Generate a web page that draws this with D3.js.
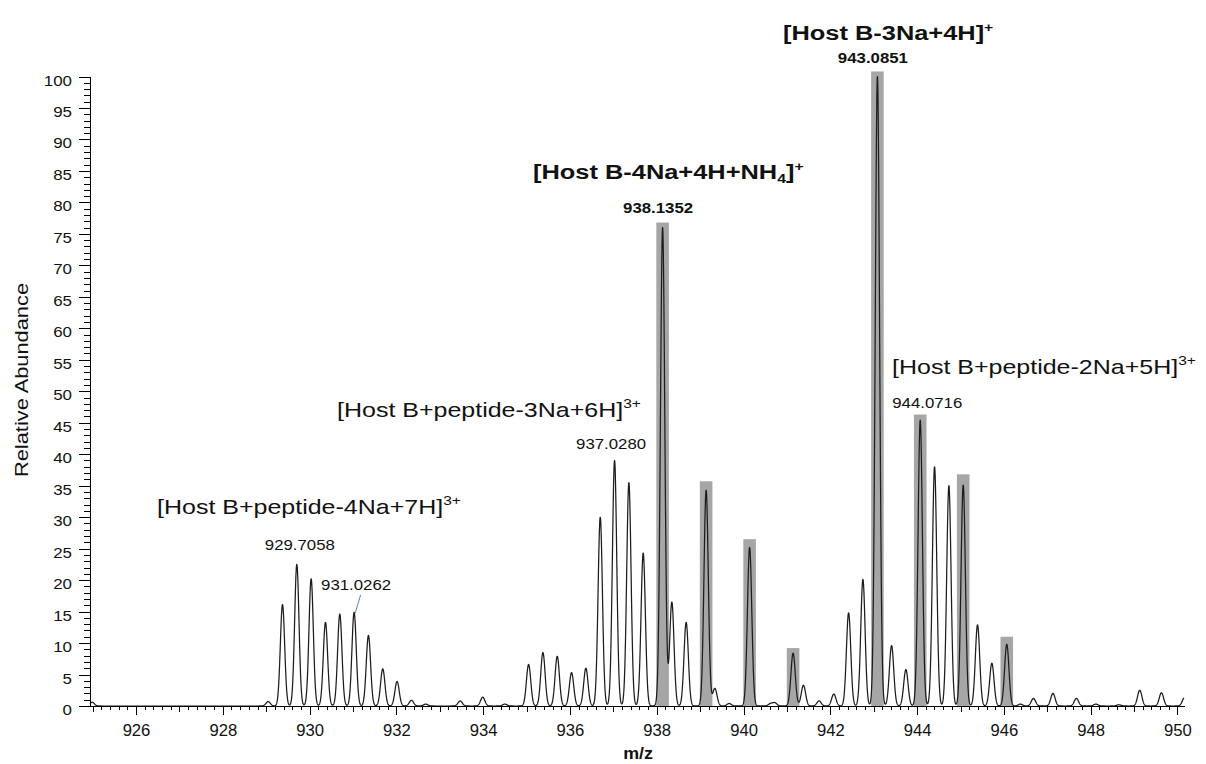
<!DOCTYPE html>
<html>
<head>
<meta charset="utf-8">
<script src="https://cdn.jsdelivr.net/npm/d3@7"></script>
<style>
  body { margin: 0; background: #fff; }
  svg { display: block; font-family: "Liberation Sans", Arial, sans-serif; }
</style>
</head>
<body>
<svg id="chart" width="1206" height="764"></svg>
<script>
// Centroids of the profile spectrum: m/z and relative abundance (%)
const peakMz = [
  924.99, 929.045, 929.376, 929.7058, 930.036, 930.366, 930.696, 931.0262, 931.356, 931.686,
  932.016, 932.347, 932.677, 933.47, 933.99, 934.50,
  935.047, 935.377, 935.707, 936.037, 936.367, 936.698, 937.028, 937.358, 937.688,
  938.1352, 938.348, 938.678, 939.138, 939.339, 939.669, 940.140, 940.62, 940.72,
  941.142, 941.38, 941.74, 942.08, 942.421, 942.751, 943.0851, 943.411, 943.741,
  944.0716, 944.402, 944.732, 945.062, 945.392, 945.722, 946.066, 946.38, 946.68,
  947.13, 947.67, 948.12, 948.65, 949.13, 949.63, 950.16
];
const peakAbundance = [
  0.6, 0.7, 16.1, 22.5, 20.2, 13.3, 14.6, 14.9, 11.2, 5.9,
  3.9, 0.9, 0.3, 0.8, 1.4, 0.3,
  6.6, 8.5, 7.9, 5.3, 6.0, 30.0, 39.0, 35.5, 24.3,
  76.0, 16.5, 13.3, 34.3, 2.8, 0.4, 25.2, 0.35, 0.5,
  8.4, 3.3, 0.8, 1.9, 14.8, 20.1, 100, 9.6, 5.8,
  45.4, 38.0, 35.0, 35.1, 12.9, 6.8, 9.8, 0.3, 1.2,
  2.0, 1.2, 0.3, 0.2, 2.5, 2.1, 1.3
];

// Theoretical isotope pattern drawn as grey bars
const barMz = [938.1352, 939.138, 940.140, 941.142, 943.0851, 944.0716, 945.062, 946.066];
const barAbundance = [76.8, 35.7, 26.5, 9.2, 100.8, 46.3, 36.8, 11.0];

// Axis ticks
const xTickLabels = [926, 928, 930, 932, 934, 936, 938, 940, 942, 944, 946, 948, 950];
const yTickLabels = d3.range(0, 101, 5);

// Peak annotations
const peakLabelMz = [929.7058, 931.0262, 937.0280, 938.1352, 943.0851, 944.0716];
const peakLabelText = ["929.7058", "931.0262", "937.0280", "938.1352", "943.0851", "944.0716"];

const svg = d3.select("#chart");

const x = d3.scaleLinear().domain([924.94, 950.15]).range([90, 1184]);
const y = d3.scaleLinear().domain([0, 100]).range([706, 76.5]);

// ---- grey isotope bars ----
const barHalf = 0.145;
svg.append("g").selectAll("rect")
  .data(barMz)
  .join("rect")
  .attr("x", (d) => x(d - barHalf))
  .attr("width", (d) => x(d + barHalf) - x(d - barHalf))
  .attr("y", (d, i) => y(barAbundance[i]))
  .attr("height", (d, i) => y(0) - y(barAbundance[i]))
  .attr("fill", "#a6a6a6");

// ---- profile trace: each centroid rendered with a gaussian peak shape ----
const sigma = 0.05;
const [m0, m1] = x.domain();
const grid = d3.range(m0, m1 + 0.0001, 0.004);
const profile = grid.map((m) => {
  let s = 0;
  for (let i = 0; i < peakMz.length; i++) {
    const dm = m - peakMz[i];
    if (Math.abs(dm) < 6 * sigma) s += peakAbundance[i] * Math.exp(-(dm * dm) / (2 * sigma * sigma));
  }
  return [m, s];
});
svg.append("path")
  .datum(profile)
  .attr("fill", "none")
  .attr("stroke", "#1c1c1c")
  .attr("stroke-width", 1.25)
  .attr("stroke-linejoin", "round")
  .attr("d", d3.line().x((d) => x(d[0])).y((d) => y(d[1])));

// ---- axes ----
const axisColor = "#000";

// y minor ticks (every 1 %)
svg.append("g")
  .attr("transform", "translate(90,0)")
  .call(d3.axisLeft(y).tickValues(d3.range(0, 101, 1)).tickSize(6).tickSizeOuter(0).tickFormat(""))
  .call((g) => g.select(".domain").remove())
  .call((g) => g.selectAll("line").attr("stroke", axisColor).attr("shape-rendering", "crispEdges"));

// y major ticks with labels
svg.append("g")
  .attr("transform", "translate(90,0)")
  .call(d3.axisLeft(y).tickValues(yTickLabels).tickSize(11).tickSizeOuter(0))
  .call((g) => g.select(".domain").attr("stroke", axisColor).attr("shape-rendering", "crispEdges"))
  .call((g) => g.selectAll("line").attr("stroke", axisColor).attr("shape-rendering", "crispEdges"))
  .call((g) => g.selectAll("text")
    .attr("x", null).attr("dy", null)
    .attr("font-size", 15)
    .attr("font-family", "Liberation Sans, Arial, sans-serif")
    .attr("fill", "#111")
    .attr("text-anchor", "end")
    .attr("transform", "translate(-18,8.5) scale(1.13,1)"));

// x minor ticks (every 0.2)
svg.append("g")
  .attr("transform", "translate(0,706)")
  .call(d3.axisBottom(x).tickValues(d3.range(925, 950.11, 0.2)).tickSize(4).tickSizeOuter(0).tickFormat(""))
  .call((g) => g.select(".domain").attr("stroke", axisColor).attr("shape-rendering", "crispEdges"))
  .call((g) => g.selectAll("line").attr("stroke", axisColor).attr("shape-rendering", "crispEdges"));

// x integer ticks
svg.append("g")
  .attr("transform", "translate(0,706)")
  .call(d3.axisBottom(x).tickValues(d3.range(925, 951, 1)).tickSize(6).tickSizeOuter(0).tickFormat(""))
  .call((g) => g.select(".domain").remove())
  .call((g) => g.selectAll("line").attr("stroke", axisColor).attr("shape-rendering", "crispEdges"));

// x labelled ticks
svg.append("g")
  .attr("transform", "translate(0,706)")
  .call(d3.axisBottom(x).tickValues(xTickLabels).tickSize(9).tickSizeOuter(0).tickFormat(d3.format("d")))
  .call((g) => g.select(".domain").remove())
  .call((g) => g.selectAll("line").attr("stroke", axisColor).attr("shape-rendering", "crispEdges"))
  .call((g) => g.selectAll("text")
    .attr("y", null).attr("dy", null)
    .attr("font-size", 16)
    .attr("font-family", "Liberation Sans, Arial, sans-serif")
    .attr("fill", "#111")
    .attr("transform", "translate(0,30) scale(1.04,1)"));

// ---- axis titles ----
svg.append("text")
  .attr("transform", "translate(28,380) rotate(-90) scale(1.18,1)")
  .attr("text-anchor", "middle")
  .attr("font-size", 18.5)
  .attr("fill", "#111")
  .text("Relative Abundance");

svg.append("text")
  .attr("transform", "translate(638,759) scale(1.05,1)")
  .attr("text-anchor", "middle")
  .attr("font-size", 17)
  .attr("font-weight", "bold")
  .attr("fill", "#111")
  .text("m/z");

// ---- rich text helper (super/subscripts) ----
function richText(xPos, yPos, parts, opts) {
  const g = svg.append("g").attr("transform", `translate(${xPos},${yPos}) scale(${opts.sx},1)`);
  const t = g.append("text")
    .attr("text-anchor", opts.anchor || "start")
    .attr("font-size", opts.size)
    .attr("font-weight", opts.weight || "normal")
    .attr("fill", "#111");
  let shift = 0;
  parts.forEach((p) => {
    const target = p.pos === "sup" ? -opts.size * 0.42 : p.pos === "sub" ? opts.size * 0.22 : 0;
    t.append("tspan")
      .attr("dy", target - shift)
      .attr("font-size", p.pos ? opts.size * 0.62 : opts.size)
      .text(p.t);
    shift = target;
  });
  return t;
}

// ion assignments
const boldTitle = { size: 20, weight: "bold", sx: 1.27 };
const plainTitle = { size: 21, sx: 1.19 };

richText(783, 40, [{ t: "[Host B-3Na+4H]" }, { t: "+", pos: "sup" }], boldTitle);
richText(533, 179, [{ t: "[Host B-4Na+4H+NH" }, { t: "4", pos: "sub" }, { t: "]" }, { t: "+", pos: "sup" }], boldTitle);
richText(337, 417, [{ t: "[Host B+peptide-3Na+6H]" }, { t: "3+", pos: "sup" }], plainTitle);
richText(157, 514, [{ t: "[Host B+peptide-4Na+7H]" }, { t: "3+", pos: "sup" }], plainTitle);
richText(892, 374, [{ t: "[Host B+peptide-2Na+5H]" }, { t: "3+", pos: "sup" }], plainTitle);

// m/z labels above peaks
const labelStyle = [
  { dx: 3, y: 550, anchor: "middle", bold: false },
  { dx: 2, y: 590, anchor: "middle", bold: false },
  { dx: -3.5, y: 449, anchor: "middle", bold: false },
  { dx: -4.5, y: 213, anchor: "middle", bold: true },
  { dx: -4.5, y: 63, anchor: "middle", bold: true },
  { dx: -28, y: 408, anchor: "start", bold: false }
];
peakLabelMz.forEach((m, i) => {
  const s = labelStyle[i];
  richText(x(m) + s.dx, s.y, [{ t: peakLabelText[i] }],
    s.bold ? { size: 14.5, weight: "bold", sx: 1.16, anchor: s.anchor }
           : { size: 15, sx: 1.12, anchor: s.anchor });
});

// leader line for 931.0262
const leadIdx = peakMz.indexOf(931.0262);
svg.append("line")
  .attr("x1", x(931.0262) + 6.5).attr("y1", 595)
  .attr("x2", x(931.0262) + 1).attr("y2", y(peakAbundance[leadIdx]) + 1)
  .attr("stroke", "#4a8cd0")
  .attr("stroke-width", 1);
</script>
</body>
</html>
